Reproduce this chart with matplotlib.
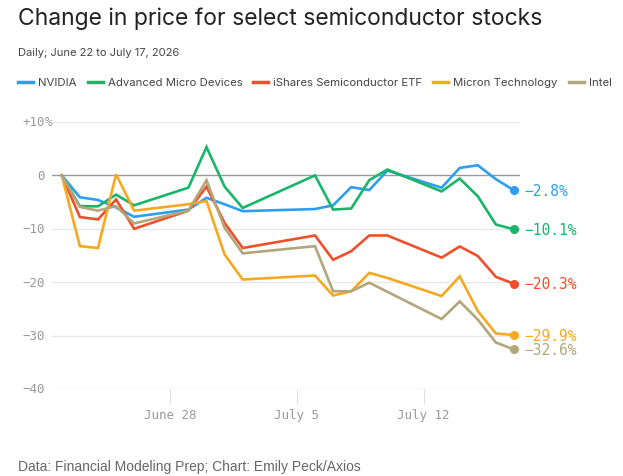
import matplotlib
matplotlib.use("Agg")
import matplotlib.pyplot as plt
import matplotlib.transforms as mtransforms
import pandas as pd

dates = pd.to_datetime([
    "2026-06-22", "2026-06-23", "2026-06-24", "2026-06-25", "2026-06-26",
    "2026-06-29", "2026-06-30", "2026-07-01", "2026-07-02", "2026-07-06",
    "2026-07-07", "2026-07-08", "2026-07-09", "2026-07-10", "2026-07-13",
    "2026-07-14", "2026-07-15", "2026-07-16", "2026-07-17"])

nvidia = [0, -4.1, -4.6, -6.0, -7.75, -6.4, -4.2, -5.4, -6.7, -6.3,
          -5.6, -2.2, -2.75, 0.9, -2.3, 1.4, 1.9, -0.7, -2.8]
amd = [0, -5.75, -5.8, -3.6, -5.6, -2.3, 5.3, -2.1, -6.1, 0.0,
       -6.4, -6.2, -0.9, 1.1, -3.0, -0.6, -3.9, -9.2, -10.1]
ishares = [0, -7.8, -8.25, -4.5, -10.0, -6.6, -2.1, -8.9, -13.6, -11.25,
           -15.8, -14.2, -11.25, -11.25, -15.4, -13.3, -15.1, -19.0, -20.3]
micron = [0, -13.25, -13.6, 0.2, -6.6, -5.4, -4.8, -14.8, -19.5, -18.75,
          -22.5, -21.7, -18.25, -19.2, -22.6, -18.9, -25.4, -29.6, -29.9]
intel = [0, -5.9, -6.6, -5.75, -9.0, -6.6, -0.9, -9.8, -14.6, -13.25,
         -21.7, -21.7, -20.1, -21.8, -26.9, -23.6, -27.0, -31.3, -32.6]

names = ["NVIDIA", "Advanced Micro Devices", "iShares Semiconductor ETF",
         "Micron Technology", "Intel"]
series = [nvidia, amd, ishares, micron, intel]
colors = ["#2e9ef0", "#19b569", "#ef4f2b", "#f7a823", "#b3a67a"]

yticks = [10, 0, -10, -20, -30, -40]
xtick_dates = pd.to_datetime(["2026-06-28", "2026-07-05", "2026-07-12"])
xtick_labels = ["June 28", "July 5", "July 12"]

mono = "DejaVu Sans Mono"

fig = plt.figure(figsize=(6.23, 4.77), dpi=100)
ax = fig.add_axes([52/623, 87/477, 468/623, 267/477])

for vals, c in zip(series, colors):
    ax.plot(dates, vals, color=c, linewidth=1.9, solid_joinstyle="miter", zorder=3)
    ax.plot(dates[-1], vals[-1], "o", color=c, markersize=5.5, zorder=4)
    ax.annotate("\u2212%.1f%%" % abs(vals[-1]), (dates[-1], vals[-1]),
                xytext=(7.5, 0), textcoords="offset points", va="center",
                ha="left", color=c, fontsize=10.5, family=mono,
                annotation_clip=False)

ax.set_ylim(-40, 10)
ax.set_xlim(dates[0] - pd.Timedelta(hours=13), dates[-1] + pd.Timedelta(hours=8))

for y in yticks:
    if y == 0:
        ax.axhline(0, color="#9a9a9a", linewidth=1, zorder=2)
    else:
        ax.axhline(y, color="#e8e8e8", linewidth=1, zorder=1)

trans = mtransforms.blended_transform_factory(fig.transFigure, ax.transData)
for y in yticks:
    lab = "+10" if y > 0 else ("0" if y == 0 else "\u2212%d" % abs(y))
    ax.text(45/623, y, lab, transform=trans, ha="right", va="center",
            fontsize=9, family=mono, color="#999999")
    if y == 10:
        ax.text(45/623, y, "%", transform=trans, ha="left", va="center",
                fontsize=9, family=mono, color="#999999")

ax.set_yticks([])
ax.set_xticks(xtick_dates)
ax.set_xticklabels(xtick_labels, family=mono, fontsize=9, color="#999999")
ax.tick_params(axis="x", length=11, width=0.8, color="#e0e0e0", pad=3)
for s in ax.spines.values():
    s.set_visible(False)

fig.text(18/623, 1 - 19/477, "Change in price for select semiconductor stocks",
         fontsize=16.5, color="#222222", va="center", ha="left", family="Inter")
fig.text(18/623, 1 - 53/477, "Daily; June 22 to July 17, 2026",
         fontsize=8, color="#444444", va="center", ha="left", family="Inter")

# legend row
x = 18
for name, c in zip(names, colors):
    fig.add_artist(plt.Line2D([x/623, (x + 15)/623], [1 - 83/477] * 2,
                              color=c, linewidth=2.5, transform=fig.transFigure))
    t = fig.text((x + 20)/623, 1 - 83/477, name, fontsize=8.2, color="#444444",
                 va="center", ha="left", family="Inter")
    fig.canvas.draw()
    bb = t.get_window_extent()
    x = bb.x1 + 11

fig.text(18/623, 1 - 467/477, "Data: Financial Modeling Prep; Chart: Emily Peck/Axios",
         fontsize=10, color="#666666", va="center", ha="left", family="Liberation Sans")

fig.savefig("out.png", dpi=100)
